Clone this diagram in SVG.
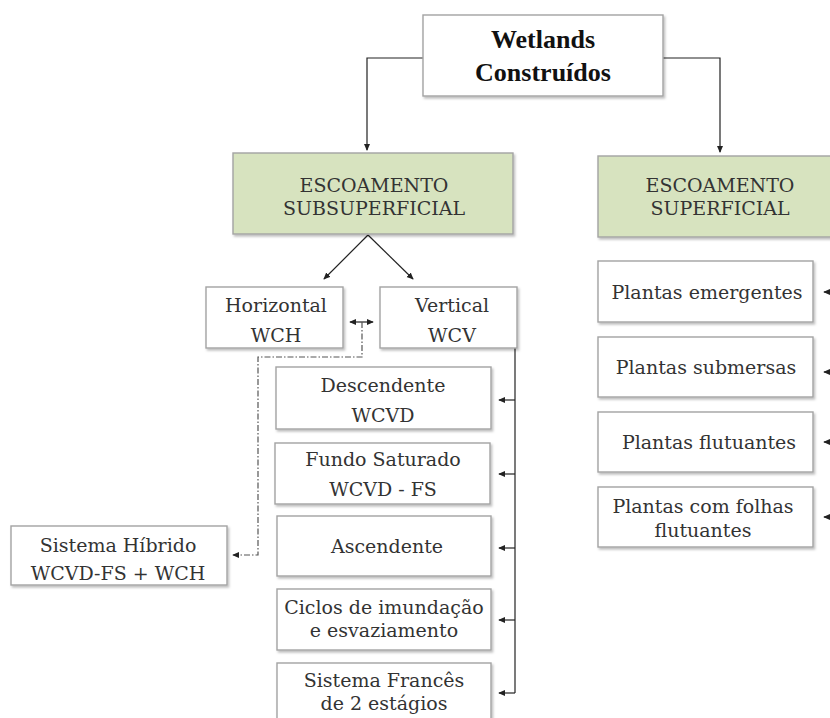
<svg xmlns="http://www.w3.org/2000/svg" width="830" height="718" viewBox="0 0 830 718">
<style>
.box{fill:#fff;stroke:#a3a3a3;stroke-width:1.4;filter:url(#sh)}
.green{fill:#d7e3bf}
.t{font-family:"DejaVu Serif","Liberation Serif",serif;font-size:19px;fill:#333;text-anchor:middle}
.title{font-family:"Liberation Serif","Times New Roman",serif;font-size:26px;font-weight:bold;fill:#111;text-anchor:middle}
.c{fill:none;stroke:#222;stroke-width:1.2}
.dd{fill:none;stroke:#555;stroke-width:1.2;stroke-dasharray:6 2 1.5 2}
</style>
<defs>
<filter id="sh" x="-5%" y="-5%" width="115%" height="125%">
<feDropShadow dx="1.5" dy="2" stdDeviation="1" flood-color="#000" flood-opacity="0.25"/>
</filter>
<marker id="a" viewBox="0 0 8 8" refX="7" refY="4" markerWidth="7" markerHeight="7" markerUnits="userSpaceOnUse" orient="auto-start-reverse">
<path d="M0,0.5 L8,4 L0,7.5 Z" fill="#222"/>
</marker>
</defs>

<g id="connectors">
<path class="c" d="M423,58 H367 V150" marker-end="url(#a)"/>
<path class="c" d="M663,58 H720 V152" marker-end="url(#a)"/>
<path class="c" d="M368,235 L324,279" marker-end="url(#a)"/>
<path class="c" d="M368,235 L413,279" marker-end="url(#a)"/>
<path class="c" d="M350,322 H373" marker-start="url(#a)" marker-end="url(#a)"/>
<path class="dd" d="M362,322 V357 H258 V555 H233" marker-end="url(#a)"/>
<path class="c" d="M515,348 V693"/>
<path class="c" d="M515,400 H499" marker-end="url(#a)"/>
<path class="c" d="M515,474 H499" marker-end="url(#a)"/>
<path class="c" d="M515,548 H499" marker-end="url(#a)"/>
<path class="c" d="M515,620 H499" marker-end="url(#a)"/>
<path class="c" d="M515,693 H499" marker-end="url(#a)"/>
<path class="c" d="M834,292 H824" marker-end="url(#a)"/>
<path class="c" d="M834,372 H824" marker-end="url(#a)"/>
<path class="c" d="M834,442 H824" marker-end="url(#a)"/>
<path class="c" d="M834,517 H824" marker-end="url(#a)"/>
</g>

<g id="wetlands">
<rect class="box" x="423" y="15" width="240" height="81"/>
<text class="title" x="543" y="48">Wetlands</text>
<text class="title" x="543" y="81">Construídos</text>
</g>

<g id="subsuperficial">
<rect class="box green" x="233" y="153" width="280" height="81"/>
<text class="t" x="374" y="192">ESCOAMENTO</text>
<text class="t" x="374" y="215">SUBSUPERFICIAL</text>
</g>

<g id="superficial">
<rect class="box green" x="598" y="156" width="244" height="81"/>
<text class="t" x="720" y="192">ESCOAMENTO</text>
<text class="t" x="720" y="215">SUPERFICIAL</text>
</g>

<g id="horizontal">
<rect class="box" x="206" y="287" width="137" height="61"/>
<text class="t" x="276" y="312">Horizontal</text>
<text class="t" x="276" y="342">WCH</text>
</g>

<g id="vertical">
<rect class="box" x="380" y="287" width="137" height="61"/>
<text class="t" x="452" y="312">Vertical</text>
<text class="t" x="452" y="342">WCV</text>
</g>

<g id="hibrido">
<rect class="box" x="11" y="526" width="216" height="59"/>
<text class="t" x="118" y="552">Sistema Híbrido</text>
<text class="t" x="118" y="580">WCVD-FS + WCH</text>
</g>

<g id="descendente">
<rect class="box" x="276" y="367" width="215" height="62"/>
<text class="t" x="383" y="392">Descendente</text>
<text class="t" x="383" y="422">WCVD</text>
</g>

<g id="fundo-saturado">
<rect class="box" x="275" y="443" width="215" height="61"/>
<text class="t" x="383" y="466">Fundo Saturado</text>
<text class="t" x="383" y="496">WCVD - FS</text>
</g>

<g id="ascendente">
<rect class="box" x="277" y="516" width="214" height="60"/>
<text class="t" x="387" y="553">Ascendente</text>
</g>

<g id="ciclos">
<rect class="box" x="277" y="589" width="214" height="61"/>
<text class="t" x="384" y="614">Ciclos de imundação</text>
<text class="t" x="384" y="637">e esvaziamento</text>
</g>

<g id="sistema-frances">
<rect class="box" x="277" y="663" width="214" height="62"/>
<text class="t" x="384" y="687">Sistema Francês</text>
<text class="t" x="384" y="710">de 2 estágios</text>
</g>

<g id="emergentes">
<rect class="box" x="598" y="261" width="215" height="61"/>
<text class="t" x="707" y="299">Plantas emergentes</text>
</g>

<g id="submersas">
<rect class="box" x="598" y="337" width="215" height="60"/>
<text class="t" x="706" y="374">Plantas submersas</text>
</g>

<g id="flutuantes">
<rect class="box" x="598" y="412" width="215" height="60"/>
<text class="t" x="709" y="449">Plantas flutuantes</text>
</g>

<g id="folhas-flutuantes">
<rect class="box" x="598" y="487" width="215" height="60"/>
<text class="t" x="703" y="513">Plantas com folhas</text>
<text class="t" x="703" y="537">flutuantes</text>
</g>
</svg>
